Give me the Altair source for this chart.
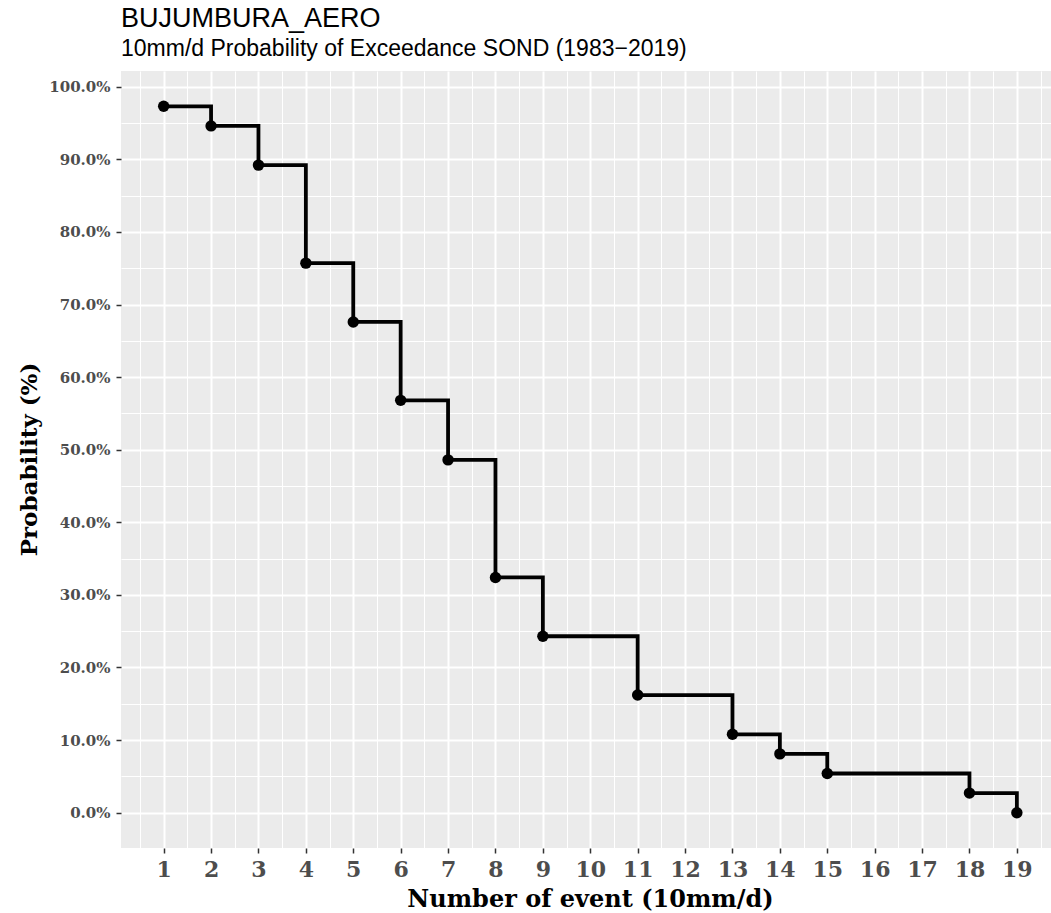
import altair as alt
import pandas as pd

# Exceedance probability of the number of 10 mm/d events, SOND 1983-2019
events = [1, 2, 3, 4, 5, 6, 7, 8, 9, 11, 13, 14, 15, 18, 19]
prob = [97.3, 94.6, 89.2, 75.7, 67.6, 56.8, 48.6, 32.4, 24.3, 16.2, 10.8, 8.1, 5.4, 2.7, 0.0]

# axis breaks (major) and the half-way minor grid positions
x_breaks = list(range(1, 20))
y_breaks = [0, 10, 20, 30, 40, 50, 60, 70, 80, 90, 100]
x_minor = [b - 0.5 for b in x_breaks] + [x_breaks[-1] + 0.5]
y_minor = [b + 5 for b in y_breaks[:-1]]

df = pd.DataFrame({"events": events, "prob": prob})

x_scale = alt.Scale(domain=[0.1, 19.72], nice=False, zero=False)
y_scale = alt.Scale(domain=[-4.865, 102.165], nice=False, zero=False)

SERIF = "DejaVu Serif"

x_axis = alt.Axis(
    orient="bottom", values=x_breaks, title="Number of event (10mm/d)", format="d",
    labelFont=SERIF, labelFontWeight="bold", labelFontSize=22, labelColor="#4D4D4D",
    labelPadding=6, labelFlush=False,
    titleFont=SERIF, titleFontWeight="bold", titleFontSize=24, titleColor="black",
    titleBaseline="alphabetic", titleX=469, titleY=58, titleAlign="center",
    tickSize=5, tickWidth=1.5, tickColor="#333333", domain=False,
    grid=True, gridColor="white", gridWidth=2,
)
y_axis = alt.Axis(
    orient="left", values=y_breaks, title="Probability (%)",
    labelExpr="format(datum.value, '.1f') + '%'",
    labelFont=SERIF, labelFontWeight="bold", labelFontSize=15, labelColor="#4D4D4D",
    labelPadding=6, labelFlush=False,
    titleFont=SERIF, titleFontWeight="bold", titleFontSize=23, titleColor="black",
    titleBaseline="alphabetic", titleAngle=270, titleX=-85, titleY=388, titleAlign="center",
    tickSize=5, tickWidth=1.5, tickColor="#333333", domain=False,
    grid=True, gridColor="white", gridWidth=2,
)

# minor grid: thinner white lines half-way between the breaks
x_minor_axis = alt.Axis(
    orient="bottom", values=x_minor, grid=True, gridColor="white", gridWidth=1,
    labels=False, ticks=False, domain=False, title=None,
)
y_minor_axis = alt.Axis(
    orient="left", values=y_minor, grid=True, gridColor="white", gridWidth=1,
    labels=False, ticks=False, domain=False, title=None,
)

steps = alt.Chart(df).mark_line(interpolate="step-after", color="black", strokeWidth=3.8).encode(
    x=alt.X("events:Q", scale=x_scale, axis=x_axis),
    y=alt.Y("prob:Q", scale=y_scale, axis=y_axis),
)
points = alt.Chart(df).mark_circle(size=130, color="black", opacity=1).encode(
    x=alt.X("events:Q", scale=x_scale, axis=x_minor_axis),
    y=alt.Y("prob:Q", scale=y_scale, axis=y_minor_axis),
)

chart = (
    alt.layer(steps, points)
    .resolve_axis(x="independent", y="independent")
    .properties(
        width=930,
        height=777,
        background="white",
        padding={"left": 121, "top": 71, "right": 0, "bottom": 65},
        autosize=alt.AutoSizeParams(type="none"),
        title=alt.TitleParams(
            text="BUJUMBURA_AERO",
            subtitle="10mm/d Probability of Exceedance SOND (1983−2019)",
            anchor="start", frame="group",
            font="Liberation Sans", fontSize=27, fontWeight="normal", color="black",
            subtitleFont="Liberation Sans", subtitleFontSize=23, subtitleColor="black",
            offset=9, subtitlePadding=5,
        ),
    )
    .configure_view(fill="#EBEBEB", stroke=None)
)

chart.save("out.html", embed_options={"renderer": "svg", "actions": False})
